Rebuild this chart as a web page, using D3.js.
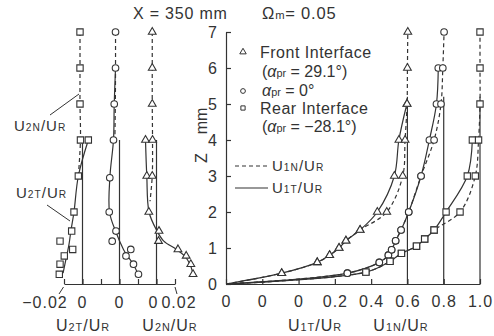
<!DOCTYPE html>
<html>
<head>
<meta charset="utf-8">
<script src="https://cdn.jsdelivr.net/npm/d3@7"></script>
<style>
  body { margin: 0; background: #fff; }
  svg text { font-family: "Liberation Sans", Arial, sans-serif; fill: #333; }
</style>
</head>
<body>
<div id="chart"></div>
<script>
// ---------- data ----------
const zTicks = [0, 1, 2, 3, 4, 5, 6, 7];

// right panel, U1/UR, one shared axis (profiles start at the axis origin)
const mainTicks = [-0.4, -0.2, 0, 0.2, 0.4, 0.6, 0.8, 1.0];
const mainTickText = ["0", "0", "0", "0.2", "0.4", "0.6", "0.8", "1.0"];
const refLines = [0.6, 0.8, 1.0];
const refTop = 5.2;

// front interface (triangles)
const triZ = [0, 0.3, 0.6, 0.8, 1.0, 1.2, 1.5, 2, 3, 4, 5, 6, 7];
const triT = [-0.4, -0.093, 0.103, 0.171, 0.223, 0.261, 0.339, 0.434, 0.528, 0.553, 0.597, null, null];
const triN = [-0.4, -0.093, 0.103, 0.171, 0.223, 0.261, 0.339, 0.486, 0.574, 0.587, 0.598, 0.600, 0.602];

// alpha_pr = 0 (circles)
const circZ = [0, 0.3, 0.6, 0.8, 0.95, 1.2, 1.5, 2, 3, 4, 5, 6, 7];
const circT = [-0.4, 0.269, 0.445, 0.495, 0.513, 0.535, 0.565, 0.607, 0.675, 0.721, 0.760, 0.770, null];
const circN = [-0.4, 0.269, 0.445, 0.495, 0.513, 0.535, 0.565, 0.607, 0.675, 0.747, 0.785, 0.795, 0.802];

// rear interface (squares)
const sqZ = [0, 0.33, 0.63, 0.85, 1.05, 1.25, 1.5, 2, 3, 4, 5, 6, 7];
const sqT = [-0.4, 0.371, 0.504, 0.567, 0.650, 0.695, 0.747, 0.813, 0.930, 0.958, null, null, null];
const sqN = [-0.4, 0.371, 0.504, 0.567, 0.650, 0.695, 0.747, 0.890, 0.974, 0.992, 1.0, 1.0, 1.0];

// left panel, U2/UR, each column measured from its own zero
const colZero = [0, 0.04, 0.08];
const leftTicks = [-0.02, 0, 0.02, 0.04, 0.06, 0.08, 0.10];
const leftLabelVals = [-0.02, 0, 0.04, 0.08, 0.10];
const leftLabelText = ["\u22120.02", "0", "0", "0", "0.02"];
const zeroTop = 4;

// squares column
const sqMarkZ = [7, 6, 5, 4, 4, 3, 2, 1.47, 1.19, 0.96, 0.78, 0.55, 0.27];
const sqMarkU = [-0.0027, -0.0027, -0.0027, -0.0022, 0.0063, -0.0045, -0.0092, -0.0117, -0.0243, -0.0106, -0.0197, -0.0243, -0.0251];
const sqNZ = [7, 6, 5, 4, 3];
const sqNU = [-0.0027, -0.0027, -0.0027, -0.0022, -0.0045];
const sqTZ = [4, 3, 2, 1.5, 1.1, 0.7, 0.3];
const sqTU = [0.0063, -0.0045, -0.0092, -0.0124, -0.0146, -0.0178, -0.021];

// circles column
const circMarkZ = [7, 6, 5, 4, 2.95, 2, 1.47, 1.19, 0.96, 0.78, 0.55, 0.27];
const circMarkU = [-0.0043, -0.0043, -0.0057, -0.0065, -0.0105, -0.0111, -0.0038, -0.0079, 0.0122, 0.0070, 0.0151, 0.0205];
const circNZ = [7, 6, 5, 4];
const circNU = [-0.0043, -0.0043, -0.0045, -0.0050];
const circTZ = [6, 5, 4, 3, 2, 1.47, 0.96, 0.78, 0.55, 0.27];
const circTU = [-0.0043, -0.0057, -0.0065, -0.0103, -0.0108, -0.0043, 0.0043, 0.0086, 0.0148, 0.0202];

// triangles column
const triMarkZ = [7, 6, 5, 4, 4, 3, 3, 2, 1.47, 1.19, 0.96, 0.78, 0.55, 0.27];
const triMarkU = [-0.0046, -0.0046, -0.0046, -0.0119, -0.0043, -0.0105, -0.0046, -0.0083, 0.0027, 0.0022, 0.0232, 0.0321, 0.0371, 0.0395];
const triNZ = [7, 6, 5, 4, 3, 2.3];
const triNU = [-0.0046, -0.0046, -0.0046, -0.0043, -0.0046, -0.0070];
const triTZ = [4, 3, 2, 1.5, 1.2, 0.96, 0.78, 0.55, 0.27];
const triTU = [-0.0119, -0.0105, -0.0081, 0, 0.0076, 0.0216, 0.0303, 0.0362, 0.0395];

// ---------- drawing ----------
const ink = "#333";
const dash = "4,3";

const svg = d3.select("#chart").append("svg")
  .attr("width", 494)
  .attr("height", 336);

const y = d3.scaleLinear().domain([0, 7]).range([284, 32]);
const xR = d3.scaleLinear().domain([-0.4, 1.0]).range([226, 480]);
const xL = d3.scaleLinear().domain([-0.02, 0.10]).range([64, 175]);

const shapes = {
  tri: d3.symbol().type(d3.symbolTriangle).size(26),
  circ: d3.symbol().type(d3.symbolCircle).size(34),
  sq: d3.symbol().type(d3.symbolSquare).size(40)
};

// text with small subscripts: parts = [text, small, italic]
function rich(x, yy, parts, size, anchor) {
  const t = svg.append("text")
    .attr("x", x).attr("y", yy)
    .attr("font-size", size)
    .attr("text-anchor", anchor || "start");
  parts.forEach(function(p) {
    t.append("tspan")
      .text(p[0])
      .attr("font-size", p[1] ? size * 0.68 : size)
      .attr("font-style", p[2] ? "italic" : null);
  });
  return t;
}

function uLabel(x, yy, sub, size, anchor) {
  return rich(x, yy, [["U", 0], [sub, 1], ["/U", 0], ["R", 1]], size, anchor)
    .attr("letter-spacing", 1);
}

function zip(zs, us, shift) {
  return zs.map(function(z, i) { return {z: z, u: us[i] == null ? null : us[i] + (shift || 0)}; });
}

function drawLine(pts, xs, dashed) {
  const line = d3.line()
    .defined(function(d) { return d.u != null; })
    .x(function(d) { return xs(d.u); })
    .y(function(d) { return y(d.z); })
    .curve(d3.curveCatmullRom.alpha(0.5));
  svg.append("path")
    .attr("d", line(pts))
    .attr("fill", "none")
    .attr("stroke", ink)
    .attr("stroke-width", 1.2)
    .attr("stroke-dasharray", dashed ? dash : null);
}

function drawMarks(pts, xs, shape) {
  svg.append("g").selectAll("path")
    .data(pts.filter(function(d) { return d.u != null && d.z > 0; }))
    .enter()
    .append("path")
      .attr("d", shapes[shape])
      .attr("transform", function(d) { return `translate(${xs(d.u)},${y(d.z)})`; })
      .attr("fill", "#fff")
      .attr("stroke", ink)
      .attr("stroke-width", 1.1);
}

// ----- right panel -----
const yAxis = svg.append("g")
  .attr("transform", `translate(${xR(-0.4)},0)`)
  .call(d3.axisLeft(y).tickValues(zTicks).tickSizeInner(-5).tickSizeOuter(0).tickPadding(8)
    .tickFormat(d3.format("d")));

const xAxisR = svg.append("g")
  .attr("transform", `translate(0,${y(0)})`)
  .call(d3.axisBottom(xR).tickValues(mainTicks).tickSizeInner(-5).tickSizeOuter(0).tickPadding(12)
    .tickFormat(function(d, i) { return mainTickText[i]; }));

[yAxis, xAxisR].forEach(function(a) {
  a.selectAll("path, line").attr("stroke", ink).attr("stroke-width", 1.2);
  a.selectAll("text").attr("font-size", 16).attr("fill", ink).attr("letter-spacing", 1)
    .attr("font-family", "'Liberation Sans', Arial, sans-serif");
});

svg.append("g").selectAll("line")
  .data(refLines)
  .enter()
  .append("line")
    .attr("x1", function(d) { return xR(d); })
    .attr("x2", function(d) { return xR(d); })
    .attr("y1", y(0))
    .attr("y2", y(refTop))
    .attr("stroke", ink)
    .attr("stroke-width", 1.2);

const rightSets = [
  [triZ, triT, triN, "tri"],
  [circZ, circT, circN, "circ"],
  [sqZ, sqT, sqN, "sq"]
];
rightSets.forEach(function(s) {
  drawLine(zip(s[0], s[1]), xR, false);
  drawLine(zip(s[0], s[2]), xR, true);
});
rightSets.forEach(function(s) {
  drawMarks(zip(s[0], s[1]), xR, s[3]);
  drawMarks(zip(s[0], s[2]), xR, s[3]);
});

// ----- left panel -----
const xAxisL = svg.append("g")
  .attr("transform", `translate(0,${y(0)})`)
  .call(d3.axisBottom(xL).tickValues(leftTicks).tickSizeInner(-5).tickSizeOuter(0).tickFormat(""));
xAxisL.selectAll("path, line").attr("stroke", ink).attr("stroke-width", 1.2);

const labelShift = [-19, 0, 0, -3, 4];
svg.append("g").selectAll("text")
  .data(leftLabelVals)
  .enter()
  .append("text")
    .attr("x", function(d, i) { return xL(d) + labelShift[i]; })
    .attr("y", 308)
    .attr("text-anchor", "middle")
    .attr("font-size", 16)
    .attr("letter-spacing", 1)
    .text(function(d, i) { return leftLabelText[i]; });

// little arrows from the end labels to the axis ends
svg.append("path")
  .attr("d", `M59,294 L${xL(-0.02) - 0.5},${y(0) + 3} M${xL(0.10)},${y(0) + 3} L177,294`)
  .attr("stroke", ink).attr("stroke-width", 1);

svg.append("g").selectAll("line")
  .data(colZero)
  .enter()
  .append("line")
    .attr("x1", function(d) { return xL(d); })
    .attr("x2", function(d) { return xL(d); })
    .attr("y1", y(0))
    .attr("y2", y(zeroTop))
    .attr("stroke", ink)
    .attr("stroke-width", 1.2);

const leftSets = [
  [sqNZ, sqNU, sqTZ, sqTU, sqMarkZ, sqMarkU, "sq", colZero[0]],
  [circNZ, circNU, circTZ, circTU, circMarkZ, circMarkU, "circ", colZero[1]],
  [triNZ, triNU, triTZ, triTU, triMarkZ, triMarkU, "tri", colZero[2]]
];
leftSets.forEach(function(s) {
  drawLine(zip(s[0], s[1], s[7]), xL, true);
  drawLine(zip(s[2], s[3], s[7]), xL, false);
});
leftSets.forEach(function(s) {
  drawMarks(zip(s[4], s[5], s[7]), xL, s[6]);
});

// left panel labels with leaders
uLabel(14, 131, "2N", 15);
uLabel(16, 198, "2T", 15);
svg.append("path")
  .attr("d", "M50,115 L79,94 M47,205 L70,221")
  .attr("stroke", ink).attr("stroke-width", 1);

// axis titles
uLabel(83, 331, "2T", 16, "middle");
uLabel(170, 331, "2N", 16, "middle");
uLabel(315, 331, "1T", 16, "middle");
uLabel(401, 331, "1N", 16, "middle");

svg.append("text").attr("transform", "translate(207,158) rotate(-90)")
  .attr("text-anchor", "middle").attr("font-size", 16).text("Z");
svg.append("text").attr("transform", "translate(207,121) rotate(-90)")
  .attr("text-anchor", "middle").attr("font-size", 16).text("mm");

// title
svg.append("text").attr("x", 133).attr("y", 19).attr("font-size", 16)
  .attr("letter-spacing", 0.8).text("X = 350 mm");
rich(262, 19, [["\u03a9", 0], ["m", 1], ["= 0.05", 0]], 16.5).attr("letter-spacing", 0.8);

// legend
const legendMarks = [["tri", 52], ["circ", 91], ["sq", 108]];
svg.append("g").selectAll("path")
  .data(legendMarks)
  .enter()
  .append("path")
    .attr("d", function(d) { return d3.symbol().type(d[0] == "tri" ? d3.symbolTriangle : d[0] == "circ" ? d3.symbolCircle : d3.symbolSquare).size(18)(); })
    .attr("transform", function(d) { return `translate(243,${d[1]})`; })
    .attr("fill", "#fff").attr("stroke", ink).attr("stroke-width", 1);

rich(260, 58, [["Front Interface", 0]], 16).attr("letter-spacing", 0.5);
rich(262, 77, [["(", 0], ["\u03b1", 0, 1], ["pr", 1], [" = 29.1\u00b0)", 0]], 16);
rich(262, 96, [["\u03b1", 0, 1], ["pr", 1], [" = 0\u00b0", 0]], 16);
rich(260, 114, [["Rear Interface", 0]], 16).attr("letter-spacing", 0.5);
rich(262, 132, [["(", 0], ["\u03b1", 0, 1], ["pr", 1], [" = \u221228.1\u00b0)", 0]], 16);

svg.append("line").attr("x1", 235).attr("x2", 268).attr("y1", 166).attr("y2", 166)
  .attr("stroke", ink).attr("stroke-width", 1.2).attr("stroke-dasharray", dash);
svg.append("line").attr("x1", 235).attr("x2", 268).attr("y1", 188).attr("y2", 188)
  .attr("stroke", ink).attr("stroke-width", 1.2);
uLabel(272, 171, "1N", 15);
uLabel(272, 193, "1T", 15);
</script>
</body>
</html>
